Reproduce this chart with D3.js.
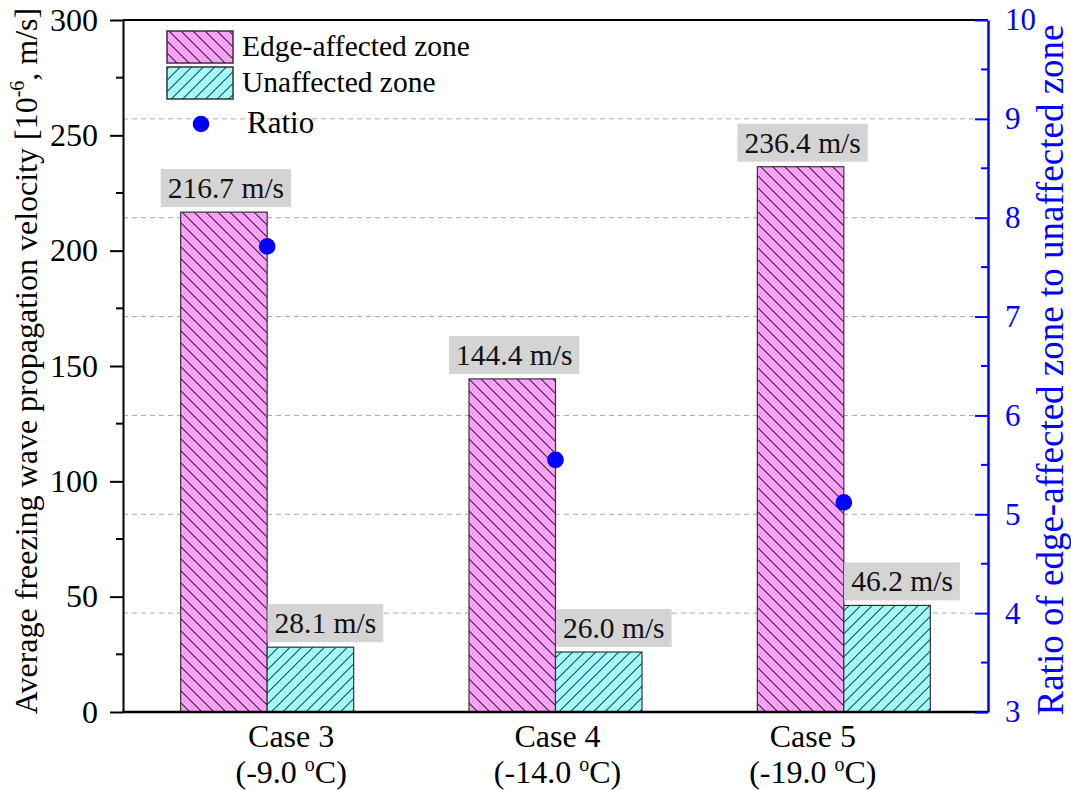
<!DOCTYPE html>
<html>
<head>
<meta charset="utf-8">
<script src="https://cdn.jsdelivr.net/npm/d3@7"></script>
<style>
  html, body { margin: 0; padding: 0; background: #fff; }
  svg { display: block; }
  svg text { font-family: "Liberation Serif", "Times New Roman", serif; }
</style>
</head>
<body>
<svg id="chart" width="1071" height="790"></svg>
<script>
// Freezing wave propagation velocity per case (10^-6 m/s) and edge/unaffected ratio
const cases = ["Case 3", "Case 4", "Case 5"];
const temps = ["(-9.0 ", "(-14.0 ", "(-19.0 "];
const edgeVelocity = [216.7, 144.4, 236.4];
const unaffectedVelocity = [28.1, 26.0, 46.2];
const ratio = [7.71, 5.55, 5.12];
const seriesNames = ["Edge-affected zone", "Unaffected zone", "Ratio"];
const leftTicks = [0, 50, 100, 150, 200, 250, 300];
const rightTicks = [3, 4, 5, 6, 7, 8, 9, 10];

const W = 1071, H = 790;
const m = { top: 20, right: 83, bottom: 78, left: 123 };
const x0 = m.left, x1 = W - m.right, yTop = m.top, yBot = H - m.bottom;
const BLUE = "#0000ff";
const SERIF = "Liberation Serif, Times New Roman, serif";

const svg = d3.select("#chart");

const x = d3.scaleBand().domain(cases).range([x0, x1]).paddingInner(0).paddingOuter(0);
const groupW = x.bandwidth() * 0.6;
const xs = d3.scaleBand().domain(["edge", "unaff"]).range([0, groupW]);
const y = d3.scaleLinear().domain([0, 300]).range([yBot, yTop]);
const y2 = d3.scaleLinear().domain([3, 10]).range([yBot, yTop]);

// hatch patterns
const defs = svg.append("defs");
function hatch(id, fill, angle, period) {
  const d = period / Math.SQRT2;
  const p = defs.append("pattern")
    .attr("id", id)
    .attr("patternUnits", "userSpaceOnUse")
    .attr("width", d).attr("height", d)
    .attr("patternTransform", `rotate(${angle})`);
  p.append("rect").attr("width", d).attr("height", d).attr("fill", fill);
  p.append("line").attr("x1", d / 2).attr("x2", d / 2).attr("y1", 0).attr("y2", d)
    .attr("stroke", "#2a2a2a").attr("stroke-width", 1);
}
hatch("hEdge", "#ffa0ff", -45, 12);
hatch("hUnaff", "#a0ffff", 45, 11.5);

// gridlines at right-axis major ticks
svg.append("g").selectAll("line")
  .data(rightTicks.filter(t => t > 3 && t < 10))
  .join("line")
  .attr("x1", x0).attr("x2", x1)
  .attr("y1", d => y2(d)).attr("y2", d => y2(d))
  .attr("stroke", "#a8a8a8").attr("stroke-width", 1).attr("stroke-dasharray", "5,4");

// bars
const groupOff = (x.bandwidth() - groupW) / 2;
const barData = cases.flatMap((c, i) => [
  { c, key: "edge", v: edgeVelocity[i] },
  { c, key: "unaff", v: unaffectedVelocity[i] }
]);
svg.append("g").selectAll("rect")
  .data(barData)
  .join("rect")
  .attr("x", d => x(d.c) + groupOff + xs(d.key))
  .attr("y", d => y(d.v))
  .attr("width", xs.bandwidth())
  .attr("height", d => y(0) - y(d.v))
  .attr("fill", d => d.key === "edge" ? "url(#hEdge)" : "url(#hUnaff)")
  .attr("stroke", "#333").attr("stroke-width", 1.2);

// value labels on grey boxes
const labelFont = 29.5;
const labelShift = { edge: 2, unaff: 15 };
const lg = svg.append("g");
barData.forEach(d => {
  const cx = x(d.c) + groupOff + xs(d.key) + xs.bandwidth() / 2 + labelShift[d.key];
  const base = y(d.v) - 14;
  const g = lg.append("g");
  const r = g.append("rect").attr("fill", "#d4d4d4");
  const t = g.append("text")
    .attr("x", cx).attr("y", base)
    .attr("text-anchor", "middle")
    .attr("font-family", SERIF)
    .attr("font-size", labelFont).attr("fill", "#111")
    .text(`${d.v.toFixed(1)} m/s`);
  const w = t.node().getComputedTextLength();
  r.attr("x", cx - w / 2 - 7).attr("width", w + 14)
    .attr("y", base - 29).attr("height", 38);
});

// frame: top border and bottom axis line
svg.append("line").attr("x1", x0).attr("x2", x1).attr("y1", yTop).attr("y2", yTop)
  .attr("stroke", "#000").attr("stroke-width", 2);
svg.append("line").attr("x1", x0 - 1).attr("x2", x1).attr("y1", yBot).attr("y2", yBot)
  .attr("stroke", "#000").attr("stroke-width", 2.5);

// left axis
const leftMinor = d3.range(25, 300, 50);
const gl = svg.append("g").attr("transform", `translate(${x0},0)`);
gl.call(d3.axisLeft(y).tickValues(leftTicks).tickFormat(d3.format("d"))
    .tickSize(13).tickPadding(12).tickSizeOuter(0))
  .attr("font-family", SERIF)
  .call(g => g.select(".domain").attr("stroke-width", 2))
  .call(g => g.selectAll(".tick line").attr("stroke-width", 2))
  .call(g => g.selectAll(".tick text").attr("font-size", 32).attr("font-family", SERIF).attr("fill", "#000"));
gl.selectAll(".minor").data(leftMinor).join("line").attr("class", "minor")
  .attr("x1", -7).attr("x2", 0).attr("y1", d => y(d)).attr("y2", d => y(d))
  .attr("stroke", "#000").attr("stroke-width", 2);

// right axis (blue)
const rightMinor = d3.range(3.5, 10, 1);
const gr = svg.append("g").attr("transform", `translate(${x1},0)`);
gr.call(d3.axisRight(y2).tickValues(rightTicks).tickFormat(d3.format("d"))
    .tickSize(-13).tickPadding(17).tickSizeOuter(0))
  .attr("font-family", SERIF)
  .call(g => g.select(".domain").attr("stroke", BLUE).attr("stroke-width", 2.5))
  .call(g => g.selectAll(".tick line").attr("stroke", BLUE).attr("stroke-width", 2))
  .call(g => g.selectAll(".tick text").attr("font-size", 31).attr("font-family", SERIF).attr("fill", BLUE));
gr.selectAll(".minor").data(rightMinor).join("line").attr("class", "minor")
  .attr("x1", -7).attr("x2", 0).attr("y1", d => y2(d)).attr("y2", d => y2(d))
  .attr("stroke", BLUE).attr("stroke-width", 2);

// ratio points
svg.append("g").selectAll("circle")
  .data(cases.map((c, i) => ({ c, r: ratio[i] })))
  .join("circle")
  .attr("cx", d => x(d.c) + x.bandwidth() / 2)
  .attr("cy", d => y2(d.r))
  .attr("r", 8.3)
  .attr("fill", BLUE);

// category labels
const catNudge = [24, 2, -31];
const cg = svg.append("g").attr("font-size", 32).attr("font-family", SERIF)
  .attr("fill", "#000").attr("text-anchor", "middle");
cases.forEach((c, i) => {
  const cx = x(c) + x.bandwidth() / 2 + catNudge[i];
  cg.append("text").attr("x", cx).attr("y", 747).text(c);
  const t = cg.append("text").attr("x", cx).attr("y", 783);
  t.append("tspan").text(temps[i]);
  t.append("tspan").attr("font-size", 20).attr("dy", -12).text("o");
  t.append("tspan").attr("dy", 12).text("C)");
});

// axis titles
const lt = svg.append("text")
  .attr("transform", `translate(37,${(yTop + yBot) / 2 - 5}) rotate(-90)`)
  .attr("text-anchor", "middle").attr("font-family", SERIF)
  .attr("font-size", 32).attr("fill", "#000");
lt.append("tspan").text("Average freezing wave propagation velocity [10");
lt.append("tspan").attr("font-size", 20).attr("dy", -13).text("-6");
lt.append("tspan").attr("dy", 13).text(", m/s]");

svg.append("text")
  .attr("transform", `translate(1063,${(yTop + yBot) / 2 + 4}) rotate(-90)`)
  .attr("text-anchor", "middle").attr("font-family", SERIF)
  .attr("font-size", 37).attr("fill", BLUE)
  .text("Ratio of edge-affected zone to unaffected zone");

// legend
const leg = svg.append("g").attr("font-family", SERIF);
leg.append("rect").attr("x", 167).attr("y", 31).attr("width", 66).attr("height", 32)
  .attr("fill", "url(#hEdge)").attr("stroke", "#333").attr("stroke-width", 1.5);
leg.append("rect").attr("x", 167).attr("y", 67).attr("width", 66).attr("height", 32)
  .attr("fill", "url(#hUnaff)").attr("stroke", "#333").attr("stroke-width", 1.5);
leg.append("text").attr("x", 242).attr("y", 56).attr("font-size", 29.5).text(seriesNames[0]);
leg.append("text").attr("x", 242).attr("y", 92).attr("font-size", 29.5).text(seriesNames[1]);
leg.append("circle").attr("cx", 201).attr("cy", 124).attr("r", 8.3).attr("fill", BLUE);
leg.append("text").attr("x", 247).attr("y", 133).attr("font-size", 31).text(seriesNames[2]);
</script>
</body>
</html>
